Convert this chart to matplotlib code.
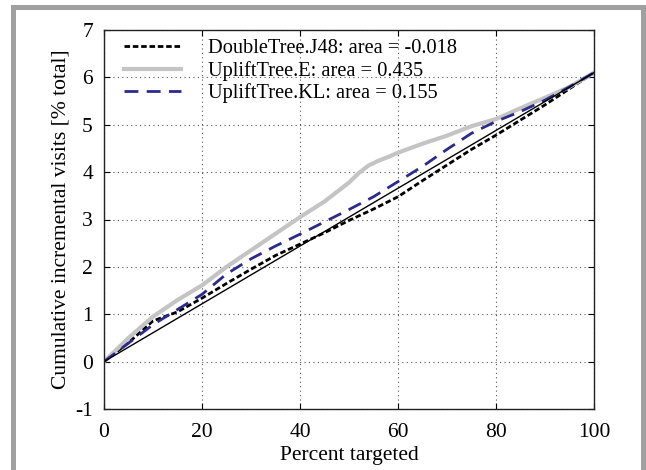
import matplotlib
matplotlib.use('Agg')
import matplotlib.pyplot as plt
from matplotlib.patches import Rectangle

plt.rcParams['font.family'] = ['Liberation Serif', 'DejaVu Serif']

# percent targeted
pct = [0, 5, 10, 15, 20, 25, 30, 35, 40, 45, 50, 55, 60, 65, 70, 75, 80, 85, 90, 95, 100]
# DoubleTree.J48
j48 = [0, 0.40, 0.86, 1.05, 1.34, 1.65, 1.95, 2.24, 2.48, 2.72, 2.98, 3.22, 3.48, 3.82, 4.15, 4.48, 4.78, 5.10, 5.42, 5.76, 6.10]
# UpliftTree.KL
tree_kl = [0, 0.39, 0.78, 1.10, 1.42, 1.85, 2.17, 2.44, 2.69, 2.95, 3.21, 3.48, 3.80, 4.12, 4.48, 4.82, 5.07, 5.28, 5.52, 5.80, 6.10]
# UpliftTree.E (own x, a bit denser around the bend)
pct_e = [0, 5, 10, 15, 20, 25, 30, 35, 40, 45, 50, 52, 54, 56, 58, 60, 65, 70, 75, 80, 85, 90, 95, 100]
tree_e = [0, 0.50, 0.95, 1.30, 1.61, 2.00, 2.35, 2.70, 3.05, 3.38, 3.78, 3.98, 4.14, 4.24, 4.32, 4.41, 4.60, 4.77, 4.97, 5.12, 5.35, 5.57, 5.80, 6.10]
# random targeting
rand_x = [0, 100]
rand_y = [0, 6.1]

labels = ['DoubleTree.J48: area = -0.018',
          'UpliftTree.E: area = 0.435',
          'UpliftTree.KL: area = 0.155']

fig = plt.figure(figsize=(6.46, 4.70), dpi=100)
ax = fig.add_axes([104/646, 1-409/470, 490/646, 379/470])

ax.plot(pct, j48, color='black', lw=2.0, ls=(0, (2, 1)), label=labels[0])
ax.plot(pct_e, tree_e, color='#c4c4c4', lw=3.0, label=labels[1])
ax.plot(pct, tree_kl, color='#2b2b8f', lw=2.0, ls=(0, (5, 3)), label=labels[2])
ax.plot(rand_x, rand_y, color='black', lw=1.0)

ax.set_xlim(0, 100)
ax.set_ylim(-1, 7)
ax.set_xticks([0, 20, 40, 60, 80, 100])
ax.set_yticks(range(-1, 8))
ax.set_yticklabels(['-1', '0', '1', '2', '3', '4', '5', '6', '7'])
ax.grid(True, color='#555555', ls=(0, (1, 3)), lw=0.8)
ax.tick_params(direction='in', top=True, right=True, labelsize=15.5, length=4)
ax.tick_params(axis='x', pad=10)
ax.tick_params(axis='y', pad=8)
for s in ax.spines.values():
	s.set_linewidth(1.0)
	s.set_color('#222222')

ax.set_xlabel('Percent targeted', fontsize=15.5, labelpad=3)
ax.set_ylabel('Cumulative incremental visits [% total]', fontsize=15.5, labelpad=3)

ax.legend(loc='upper left', bbox_to_anchor=(0.028, 0.992), frameon=False, fontsize=14.7,
          handlelength=2.8, labelspacing=0.12, borderaxespad=0.0, borderpad=0.3,
          handletextpad=1.3)

# gray frame
gray = '#a0a0a0'
fig.add_artist(Rectangle((11/646, 0), 5/646, 1-5/470, transform=fig.transFigure, color=gray, lw=0))
fig.add_artist(Rectangle((11/646, 1-10/470), 635/646, 5/470, transform=fig.transFigure, color=gray, lw=0))
fig.add_artist(Rectangle((641/646, 0), 5/646, 1-5/470, transform=fig.transFigure, color=gray, lw=0))

fig.savefig('out.png', dpi=100)
